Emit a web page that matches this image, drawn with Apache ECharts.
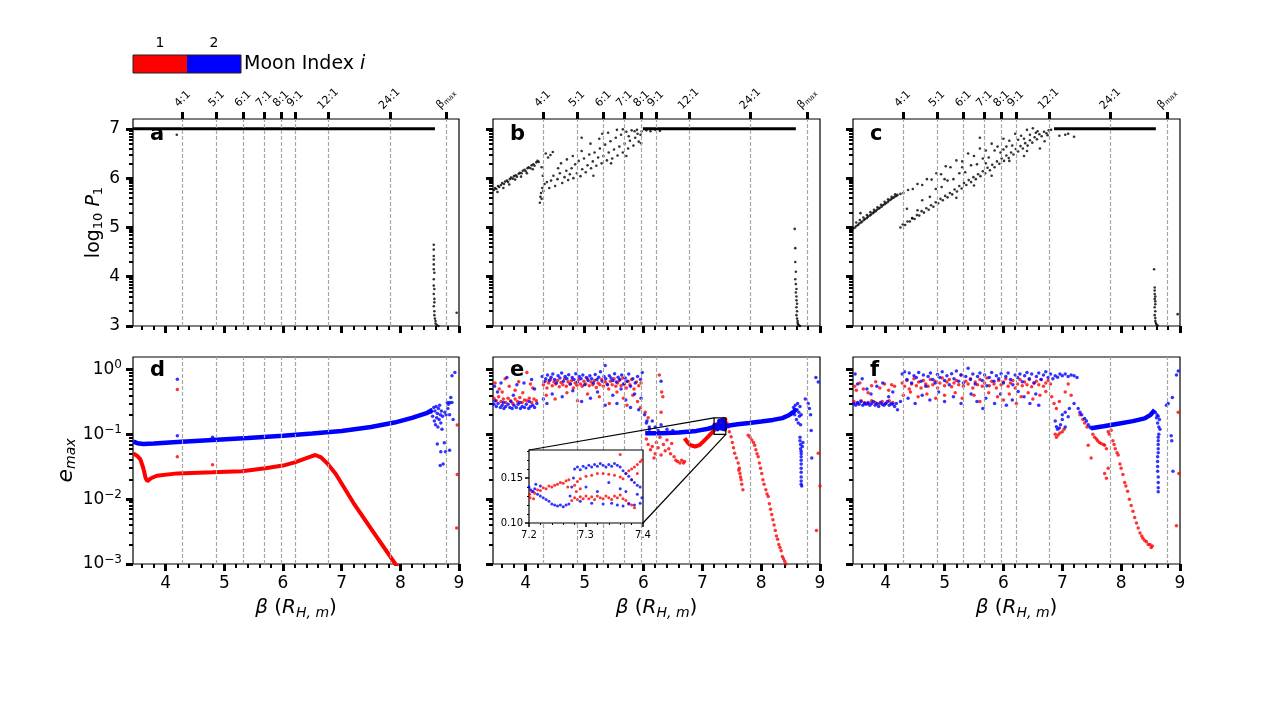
<!DOCTYPE html>
<html>
<head>
<meta charset="utf-8">
<script src="https://cdn.jsdelivr.net/npm/echarts@6.0.0/dist/echarts.min.js"></script>
<style>
html,body{margin:0;padding:0;background:#fff;}
#main{width:1273px;height:719px;}
</style>
</head>
<body>
<div id="main"></div>
<script>
// ---- axes / ticks ----
var xMajorTicks = [4, 5, 6, 7, 8, 9];
var xMinorTicks = [3.6, 3.8, 4.2, 4.4, 4.6, 4.8, 5.2, 5.4, 5.6, 5.8, 6.2, 6.4, 6.6, 6.8, 7.2, 7.4, 7.6, 7.8, 8.2, 8.4, 8.6, 8.8];
var resBeta = [4.29, 4.87, 5.32, 5.68, 5.97, 6.21, 6.77, 7.82, 8.78];
var resNames = ['4:1', '5:1', '6:1', '7:1', '8:1', '9:1', '12:1', '24:1', 'βmax'];
var pTicks = [3, 4, 5, 6, 7];
var eTicks = [0.001, 0.01, 0.1, 1];
var insetXTicks = [7.2, 7.3, 7.4];
var insetXMinor = [7.22, 7.24, 7.26, 7.28, 7.32, 7.34, 7.36, 7.38];
var insetYTicks = [0.10, 0.15];
var insetYMinor = [0.11, 0.12, 0.13, 0.14, 0.16, 0.17, 0.18];

// ---- panel a ----
var aLine = [[3.444, 7], [8.59, 7]];
var aDots = [[4.19, 6.88], [8.57, 4.65], [8.57, 4.55], [8.57, 4.42], [8.57, 4.35], [8.57, 4.25], [8.57, 4.15], [8.58, 4.08], [8.57, 3.95], [8.57, 3.82], [8.58, 3.75], [8.57, 3.65], [8.58, 3.55], [8.58, 3.48], [8.57, 3.4], [8.58, 3.3], [8.58, 3.22], [8.59, 3.15], [8.6, 3.1], [8.6, 3.05], [8.62, 3.02], [8.65, 3.0], [8.96, 3.27]];

// ---- panel b ----
var bLine = [[5.99, 7], [8.59, 7]];
var bDots = [[3.46,5.76],[3.48,5.80],[3.50,5.78],[3.53,5.84],[3.55,5.82],[3.58,5.86],[3.60,5.90],[3.63,5.88],[3.65,5.93],[3.68,5.95],[3.70,5.92],[3.73,5.98],[3.75,6.01],[3.78,5.99],[3.80,6.04],[3.83,6.06],[3.85,6.03],[3.88,6.09],[3.90,6.11],[3.93,6.10],[3.95,6.15],[3.98,6.17],[4.00,6.14],[4.03,6.20],[4.05,6.22],[4.08,6.20],[4.10,6.26],[4.13,6.28],[4.15,6.25],[4.18,6.32],[4.20,6.35],[4.22,6.33],[3.52,5.72],[3.62,5.80],[3.72,5.87],[3.82,5.97],[3.92,6.03],[4.02,6.10],[4.12,6.18],
  [4.24,5.50],[4.25,5.62],[4.26,5.70],[4.28,5.80],[4.27,5.58],[4.30,5.74],[4.32,5.88],[4.29,6.05],[4.27,6.22],[4.34,6.50],[4.38,6.42],[4.42,6.47],[4.46,6.53],[4.36,5.92],[4.40,5.80],[4.43,5.95],[4.47,6.05],[4.50,5.84],[4.54,5.98],[4.58,6.10],[4.62,5.90],[4.66,6.02],[4.69,6.15],[4.72,5.96],[4.75,6.08],[4.78,6.20],[4.81,6.00],[4.84,6.28],[4.87,6.10],[4.90,6.35],[4.93,6.04],[4.96,6.18],[4.99,6.40],[5.02,6.12],[5.05,6.26],[5.08,6.48],[5.11,6.20],[5.14,6.34],[5.17,6.52],[5.20,6.25],[5.23,6.42],[5.26,6.60],[5.29,6.30],[5.32,6.45],[5.35,6.68],[5.38,6.36],[5.41,6.52],[5.44,6.75],[5.47,6.40],[5.50,6.58],[5.53,6.82],[5.56,6.46],[5.59,6.64],[5.62,6.88],[5.65,6.52],[5.68,6.70],[5.71,6.94],[5.74,6.60],[5.77,6.76],[5.80,6.97],[5.83,6.66],[5.86,6.82],[5.89,6.98],[5.92,6.74],[5.95,6.88],[5.97,6.95],
  [4.60,6.30],[4.70,6.38],[4.80,6.45],[4.95,6.55],[5.10,6.70],[5.25,6.80],[5.40,6.92],[5.55,6.98],[5.65,6.99],[4.95,6.82],[5.71,6.45],[5.96,6.71],[5.30,6.90],[4.55,6.20],[5.15,6.05],[5.45,6.30],[5.75,6.85],[5.85,6.95],[5.90,6.90],
  [6.05,6.97],[6.12,6.95],[6.20,6.98],[6.28,6.96],
  [8.57,4.97],[8.58,4.58],[8.58,4.30],[8.59,4.10],[8.58,3.95],[8.59,3.85],[8.60,3.75],[8.59,3.68],[8.60,3.60],[8.60,3.52],[8.61,3.45],[8.60,3.38],[8.61,3.30],[8.60,3.22],[8.61,3.15],[8.62,3.10],[8.62,3.06],[8.63,3.03],[8.64,3.01],[8.66,3.00]];

// ---- panel c ----
var cLine = [[6.86, 7], [8.59, 7]];
var cDots = [[3.45,4.98],[3.48,5.00],[3.50,5.03],[3.53,5.05],[3.55,5.08],[3.58,5.10],[3.60,5.12],[3.63,5.15],[3.65,5.17],[3.68,5.19],[3.70,5.22],[3.73,5.24],[3.75,5.26],[3.78,5.29],[3.80,5.31],[3.83,5.33],[3.85,5.36],[3.88,5.38],[3.90,5.40],[3.93,5.42],[3.95,5.45],[3.98,5.47],[4.00,5.49],[4.03,5.51],[4.05,5.54],[4.08,5.56],[4.10,5.58],[4.13,5.60],[4.15,5.62],[4.18,5.64],[4.20,5.66],[4.25,5.68],
  [3.50,5.10],[3.56,5.15],[3.62,5.20],[3.68,5.25],[3.74,5.31],[3.80,5.36],[3.86,5.41],[3.92,5.46],[3.98,5.52],[4.04,5.57],[4.10,5.62],[4.16,5.67],[3.57,5.29],
  [4.25,5.00],[4.29,5.06],[4.33,5.05],[4.37,5.12],[4.41,5.12],[4.45,5.19],[4.49,5.17],[4.53,5.25],[4.57,5.24],[4.61,5.33],[4.65,5.30],[4.69,5.39],[4.73,5.36],[4.77,5.45],[4.81,5.42],[4.85,5.51],[4.89,5.49],[4.93,5.58],[4.97,5.55],[5.01,5.64],[5.05,5.61],[5.09,5.70],[5.13,5.67],[5.17,5.77],[5.21,5.73],[5.25,5.84],[5.29,5.79],[5.33,5.90],[5.37,5.86],[5.41,5.96],[5.45,5.92],[5.49,6.02],[5.53,5.98],[5.57,6.08],[5.61,6.04],[5.65,6.14],[5.69,6.10],[5.73,6.21],[5.77,6.16],[5.81,6.27],[5.85,6.22],[5.89,6.34],[5.93,6.29],[5.97,6.40],[6.01,6.35],[6.05,6.46],[6.09,6.41],[6.13,6.52],[6.17,6.48],[6.21,6.59],[6.25,6.54],[6.29,6.65],[6.33,6.60],[6.37,6.71],[6.41,6.66],[6.45,6.77],[6.49,6.72],[6.53,6.83],[6.57,6.79],[6.61,6.89],[6.65,6.85],[6.69,6.94],[6.73,6.91],[6.77,6.97],[6.81,6.98],
  [4.30,5.70],[4.38,5.76],[4.46,5.78],[4.54,5.88],[4.62,5.86],[4.70,5.98],[4.78,5.97],[4.86,6.10],[4.94,6.08],[5.02,6.24],[5.10,6.22],[5.20,6.36],[5.30,6.34],[5.40,6.50],[5.50,6.45],[5.60,6.60],[5.70,6.56],[5.80,6.70],[5.90,6.64],[6.00,6.80],[6.10,6.76],[6.20,6.90],[6.30,6.86],[6.40,6.98],[6.50,7.01],
  [4.36,5.38],[4.45,5.18],[4.54,5.35],[4.62,5.55],[4.75,5.62],[4.85,5.78],[4.95,5.82],[5.05,5.95],[5.15,5.98],[5.25,6.10],[5.35,6.12],[5.45,6.26],[5.55,6.28],[5.65,6.40],[5.75,6.42],[5.85,6.56],[5.95,6.52],[6.05,6.64],[6.15,6.66],[6.25,6.78],[6.35,6.80],[6.45,6.88],[6.55,6.92],[6.62,6.60],[6.70,6.75],[6.35,6.45],[5.60,6.82],[6.58,6.95],[6.75,6.87],[5.20,5.60],[5.50,5.85],[5.80,6.05],[6.10,6.35],[6.40,6.55],[5.00,5.98],[5.30,6.22],[5.70,6.30],[6.00,6.58],
  [6.95,6.86],[7.05,6.88],[7.20,6.84],[7.10,6.90],
  [8.56,4.15],[8.57,3.78],[8.57,3.72],[8.57,3.65],[8.58,3.60],[8.57,3.55],[8.58,3.50],[8.58,3.44],[8.57,3.38],[8.58,3.30],[8.57,3.22],[8.58,3.16],[8.58,3.10],[8.59,3.06],[8.60,3.03],[8.62,3.01],[8.96,3.24]];

// ---- panel d ----
var dBlueLine = [[3.45,0.077],[3.52,0.073],[3.62,0.071],[3.8,0.072],[4.2,0.076],[4.8,0.082],[5.4,0.088],[6.0,0.095],[6.5,0.103],[7.0,0.113],[7.5,0.13],[7.9,0.152],[8.2,0.18],[8.46,0.215],[8.55,0.24]];
var dRedLine = [[3.45,0.051],[3.52,0.046],[3.57,0.041],[3.62,0.03],[3.66,0.021],[3.69,0.019],[3.75,0.021],[3.85,0.023],[4.2,0.025],[4.8,0.026],[5.3,0.027],[5.7,0.030],[6.0,0.033],[6.2,0.037],[6.4,0.043],[6.55,0.048],[6.65,0.044],[6.75,0.036],[6.9,0.0245],[7.2,0.0088],[7.5,0.0035],[7.95,0.0009]];
var dBlueDots = [[4.2,0.71],[4.2,0.095],[4.8,0.09],[8.52,0.22],[8.55,0.19],[8.57,0.26],[8.58,0.16],[8.59,0.23],[8.6,0.14],[8.61,0.27],[8.62,0.18],[8.63,0.21],[8.64,0.13],[8.65,0.25],[8.66,0.17],[8.67,0.28],[8.68,0.2],[8.69,0.15],[8.7,0.23],[8.71,0.12],[8.72,0.19],
  [8.63,0.071],[8.69,0.054],[8.68,0.033],[8.73,0.035],[8.75,0.074],[8.77,0.054],[8.84,0.057],[8.8,0.31],[8.84,0.31],[8.82,0.29],[8.81,0.25],[8.84,0.2],[8.78,0.2],[8.86,0.37],[8.88,0.31],[8.9,0.17],[8.88,0.8],[8.93,0.9],[8.76,0.22]];
var dRedDots = [[4.2,0.49],[4.2,0.045],[4.8,0.034],[8.97,0.139],[8.97,0.024],[8.96,0.0036]];

// ---- panel e ----
var eBlueLine = [[6.03,0.104],[6.3,0.104],[6.6,0.107],[6.9,0.113],[7.1,0.122],[7.2,0.13],[7.4,0.135],[7.6,0.143],[7.8,0.150],[8.0,0.158],[8.2,0.167],[8.36,0.178],[8.46,0.195],[8.55,0.22],[8.6,0.25]];
var eRedLine = [[6.7,0.087],[6.75,0.075],[6.8,0.068],[6.88,0.065],[6.95,0.068],[7.02,0.078],[7.1,0.092],[7.16,0.105],[7.21,0.118]];
var eBlueDots = [[3.46,0.29],[3.50,0.27],[3.53,0.30],[3.57,0.26],[3.60,0.28],[3.63,0.25],[3.66,0.27],[3.70,0.29],[3.73,0.26],[3.77,0.25],[3.80,0.28],[3.84,0.26],[3.87,0.29],[3.91,0.25],[3.94,0.27],[3.98,0.26],[4.01,0.29],[4.05,0.25],[4.08,0.27],[4.12,0.28],[4.15,0.26],[4.19,0.30],[3.48,0.33],[3.62,0.31],[3.75,0.32],[3.90,0.31],[4.06,0.32],
  [3.47,0.55],[3.52,0.45],[3.58,0.62],[3.68,0.75],[3.79,0.40],[3.85,0.58],[3.97,0.62],[4.10,0.70],[4.15,0.50],
  [4.28,0.78],[4.31,0.65],[4.34,0.72],[4.37,0.82],[4.40,0.68],[4.43,0.76],[4.46,0.85],[4.49,0.70],[4.52,0.62],[4.55,0.80],[4.58,0.74],[4.61,0.88],[4.64,0.66],[4.67,0.78],[4.70,0.72],[4.73,0.83],[4.76,0.60],[4.79,0.75],[4.82,0.70],[4.85,0.86],[4.88,0.64],[4.91,0.78],[4.94,0.72],[4.97,0.82],[5.00,0.58],[5.03,0.75],[5.06,0.68],[5.09,0.80],[5.12,0.72],[5.15,0.62],[5.18,0.84],[5.21,0.70],[5.24,0.76],[5.27,0.92],[5.30,0.66],[5.33,0.78],[5.36,0.72],[5.39,0.58],[5.42,0.80],[5.45,0.74],[5.48,0.68],[5.51,0.86],[5.54,0.64],[5.57,0.76],[5.60,0.70],[5.63,0.82],[5.66,0.60],[5.69,0.74],[5.72,0.66],[5.75,0.85],[5.78,0.55],[5.82,0.72],[5.86,0.62],[5.90,0.78],[5.95,0.70],[5.98,0.90],[5.35,1.15],
  [4.30,0.35],[4.36,0.30],[4.45,0.42],[4.62,0.38],[4.80,0.47],[4.95,0.32],[5.10,0.36],[5.22,0.45],[5.35,0.28],[5.48,0.40],[5.55,0.30],[5.62,0.50],[5.70,0.34],[5.78,0.26],[5.85,0.42],[5.92,0.24],[5.96,0.36],[6.02,0.20],[6.06,0.16],[6.10,0.13],[6.30,0.66],
  [6.05,0.15],[6.1,0.12],[6.15,0.16],[6.2,0.13],[6.25,0.115],[6.3,0.14],[6.4,0.12],[6.5,0.115],
  [8.52,0.22],[8.55,0.26],[8.57,0.2],[8.58,0.28],[8.6,0.17],[8.61,0.24],[8.62,0.3],[8.63,0.15],[8.64,0.22],[8.65,0.19],[8.66,0.27],[8.67,0.14],[8.68,0.2],
  [8.66,0.09],[8.66,0.08],[8.67,0.07],[8.70,0.065],[8.67,0.06],[8.71,0.075],[8.68,0.055],[8.68,0.05],[8.68,0.045],[8.68,0.04],[8.68,0.035],[8.68,0.03],[8.68,0.026],[8.68,0.022],[8.68,0.019],[8.68,0.017],[8.69,0.016],
  [8.75,0.35],[8.8,0.3],[8.82,0.25],[8.84,0.2],[8.86,0.043],[8.85,0.115],[8.97,0.64],[8.93,0.75]];
var eRedDots = [[3.46,0.36],[3.50,0.33],[3.54,0.38],[3.58,0.32],[3.62,0.35],[3.66,0.31],[3.70,0.36],[3.74,0.33],[3.78,0.30],[3.82,0.35],[3.86,0.32],[3.90,0.37],[3.94,0.31],[3.98,0.34],[4.02,0.33],[4.06,0.36],[4.10,0.31],[4.14,0.35],[4.18,0.33],
  [3.48,0.62],[3.55,0.50],[3.60,0.45],[3.65,0.72],[3.72,0.55],[3.82,0.48],[3.88,0.65],[3.95,0.44],[4.02,0.90],[4.08,0.60],[4.12,0.52],
  [4.30,0.58],[4.33,0.66],[4.36,0.52],[4.39,0.62],[4.42,0.70],[4.45,0.56],[4.48,0.64],[4.51,0.60],[4.54,0.68],[4.57,0.54],[4.60,0.63],[4.63,0.58],[4.66,0.72],[4.69,0.55],[4.72,0.65],[4.75,0.60],[4.78,0.68],[4.81,0.52],[4.84,0.62],[4.87,0.57],[4.90,0.70],[4.93,0.60],[4.96,0.55],[4.99,0.66],[5.02,0.60],[5.05,0.72],[5.08,0.56],[5.11,0.64],[5.14,0.58],[5.17,0.68],[5.20,0.53],[5.23,0.62],[5.26,0.58],[5.29,0.70],[5.32,0.55],[5.35,0.65],[5.38,0.60],[5.41,0.50],[5.44,0.66],[5.47,0.58],[5.50,0.72],[5.53,0.55],[5.56,0.62],[5.59,0.68],[5.62,0.56],[5.65,0.74],[5.68,0.60],[5.71,0.52],[5.74,0.66],[5.77,0.58],[5.80,0.70],[5.84,0.50],[5.88,0.64],[5.92,0.56],[5.96,0.62],
  [4.35,0.40],[4.50,0.35],[4.70,0.44],[4.88,0.33],[5.05,0.42],[5.25,0.38],[5.42,0.30],[5.55,0.45],[5.66,0.36],[5.72,0.28],[5.82,0.40],[5.90,0.32],[5.95,0.26],[6.03,0.22],[6.08,0.18],[6.27,0.82],[6.31,0.45],[6.30,0.22],[6.33,0.38],
  [6.05,0.085],[6.08,0.07],[6.12,0.058],[6.15,0.065],[6.18,0.043],[6.20,0.05],[6.22,0.075],[6.25,0.062],[6.28,0.09],[6.30,0.048],[6.34,0.07],[6.37,0.056],[6.40,0.082],[6.43,0.06],[6.46,0.05],[6.48,0.072],[6.52,0.045],[6.55,0.04],[6.58,0.038],[6.62,0.036],[6.65,0.04],[6.68,0.036],[6.70,0.038],
  [7.42,0.15],[7.44,0.13],[7.46,0.11],[7.49,0.092],[7.51,0.075],[7.53,0.062],[7.55,0.051],[7.58,0.043],[7.61,0.036],[7.62,0.028],[7.63,0.030],[7.64,0.025],[7.65,0.022],[7.66,0.020],[7.67,0.017],[7.69,0.014],
  [7.78,0.097],[7.81,0.09],[7.84,0.082],[7.87,0.075],[7.89,0.068],[7.91,0.058],[7.93,0.05],[7.95,0.045],[7.97,0.036],[7.99,0.03],[8.01,0.025],[8.03,0.02],[8.05,0.017],[8.08,0.014],[8.10,0.012],[8.12,0.011],[8.14,0.0085],[8.16,0.007],[8.18,0.0058],[8.20,0.0048],[8.22,0.004],[8.24,0.0033],[8.26,0.0027],[8.28,0.0024],[8.30,0.002],[8.32,0.0018],[8.34,0.0016],[8.36,0.0013],[8.38,0.0012],[8.40,0.0011],[8.42,0.001],
  [8.97,0.051],[8.94,0.0033],[9.0,0.016]];

// ---- panel e inset (7.2 - 7.4) ----
var insetRed = [[7.201,0.132],[7.205,0.135],[7.21,0.133],[7.215,0.137],[7.22,0.136],[7.225,0.139],[7.23,0.138],[7.235,0.141],[7.24,0.140],[7.245,0.142],[7.25,0.143],[7.255,0.145],[7.26,0.144],[7.265,0.147],[7.27,0.148],[7.268,0.14],[7.202,0.128],[7.208,0.127],
  [7.275,0.125],[7.28,0.128],[7.285,0.126],[7.29,0.129],[7.295,0.127],[7.30,0.130],[7.305,0.127],[7.31,0.129],[7.315,0.126],[7.32,0.13],[7.325,0.128],[7.33,0.127],[7.335,0.13],[7.34,0.128],[7.345,0.126],[7.35,0.13],[7.355,0.128],[7.36,0.131],[7.365,0.127],[7.37,0.125],[7.375,0.122],[7.38,0.12],[7.385,0.117],
  [7.28,0.142],[7.285,0.146],[7.29,0.149],[7.30,0.152],[7.31,0.153],[7.32,0.155],[7.33,0.155],[7.34,0.154],[7.35,0.153],[7.36,0.151],[7.365,0.149],[7.29,0.138],[7.283,0.135],
  [7.37,0.155],[7.375,0.158],[7.38,0.16],[7.385,0.162],[7.39,0.165],[7.395,0.168],[7.398,0.17],[7.39,0.155],[7.38,0.148],[7.36,0.176]];
var insetBlue = [[7.2,0.14],[7.203,0.137],[7.207,0.135],[7.21,0.138],[7.215,0.132],[7.22,0.13],[7.225,0.128],[7.23,0.126],[7.235,0.124],[7.24,0.121],[7.245,0.12],[7.25,0.119],[7.255,0.12],[7.26,0.118],[7.265,0.12],[7.27,0.121],[7.212,0.143],[7.22,0.141],
  [7.272,0.13],[7.275,0.14],[7.278,0.15],
  [7.28,0.16],[7.285,0.162],[7.29,0.159],[7.295,0.163],[7.30,0.161],[7.305,0.164],[7.31,0.162],[7.315,0.165],[7.32,0.163],[7.325,0.166],[7.33,0.164],[7.335,0.162],[7.34,0.165],[7.345,0.163],[7.35,0.166],[7.355,0.164],[7.36,0.162],[7.365,0.158],[7.37,0.155],[7.375,0.152],[7.38,0.148],[7.385,0.145],[7.39,0.142],[7.395,0.14],
  [7.29,0.124],[7.31,0.122],[7.33,0.121],[7.345,0.122],[7.355,0.12],[7.365,0.119],[7.375,0.121],[7.385,0.12],[7.395,0.122],[7.39,0.132],[7.398,0.128],
  [7.30,0.14],[7.32,0.135],[7.34,0.145],[7.36,0.138],[7.37,0.135]];

// ---- panel f ----
var fBlueLine = [[7.49,0.124],[7.7,0.133],[7.95,0.146],[8.2,0.16],[8.4,0.176],[8.5,0.2],[8.57,0.237]];
var fBlueDots = [[3.46,0.30],[3.49,0.28],[3.52,0.31],[3.55,0.29],[3.58,0.32],[3.61,0.28],[3.64,0.30],[3.67,0.29],[3.70,0.31],[3.73,0.28],[3.76,0.30],[3.79,0.32],[3.82,0.28],[3.85,0.30],[3.88,0.27],[3.91,0.31],[3.94,0.29],[3.97,0.28],[4.00,0.30],[4.03,0.32],[4.06,0.28],[4.09,0.30],[4.12,0.29],[4.15,0.27],[4.18,0.30],[4.20,0.24],
  [3.48,0.85],[3.52,0.60],[3.60,0.72],[3.68,0.50],[3.75,0.42],[3.85,0.55],[3.95,0.62],[4.05,0.38],[4.12,0.45],
  [4.28,0.85],[4.32,0.92],[4.36,0.70],[4.40,0.88],[4.44,0.62],[4.48,0.80],[4.52,0.75],[4.56,0.90],[4.60,0.66],[4.64,0.82],[4.68,0.55],[4.72,0.78],[4.76,0.88],[4.80,0.70],[4.84,0.62],[4.88,0.84],[4.92,0.75],[4.96,0.92],[5.00,0.68],[5.04,0.80],[5.08,0.58],[5.12,0.86],[5.16,0.72],[5.20,0.95],[5.24,0.66],[5.28,0.82],[5.32,0.62],[5.36,0.78],[5.40,1.05],[5.44,0.70],[5.48,0.85],[5.52,0.60],[5.56,0.78],[5.60,0.88],[5.64,0.68],[5.68,0.82],[5.72,0.56],[5.76,0.75],[5.80,0.90],[5.84,0.66],[5.88,0.80],[5.92,0.72],[5.96,0.86],[6.00,0.62],[6.04,0.78],[6.08,0.88],[6.12,0.70],[6.16,0.58],[6.20,0.82],[6.24,0.75],[6.28,0.85],[6.32,0.65],[6.36,0.80],[6.40,0.90],[6.44,0.72],[6.48,0.85],[6.52,0.62],[6.56,0.78],[6.60,0.88],[6.64,0.70],[6.68,0.82],[6.72,0.92],[6.76,0.75],[6.80,0.85],[6.84,0.72],[6.88,0.80],[6.92,0.76],[6.96,0.85],[7.00,0.80],[7.05,0.85],[7.10,0.78],[7.15,0.82],[7.20,0.80],[7.25,0.75],
  [4.25,0.32],[4.38,0.36],[4.50,0.30],[4.62,0.40],[4.75,0.34],[4.90,0.45],[5.00,0.32],[5.15,0.38],[5.28,0.30],[5.45,0.42],[5.55,0.32],[5.65,0.25],[5.70,0.36],[5.85,0.30],[5.95,0.42],[6.05,0.28],[6.15,0.34],[6.25,0.46],[6.35,0.38],[6.45,0.30],[6.55,0.42],[6.60,0.28],
  [6.88,0.16],[6.90,0.131],[6.92,0.12],[6.95,0.125],[6.97,0.14],[7.00,0.20],[7.05,0.22],[7.10,0.187],[7.12,0.25],[7.20,0.30],[7.27,0.25],[7.30,0.22],[7.33,0.20],[7.38,0.176],[7.41,0.16],[7.44,0.14],[7.47,0.13],[7.49,0.124],[7.00,0.17],[7.05,0.13],
  [8.58,0.22],[8.60,0.18],[8.61,0.20],[8.62,0.15],[8.63,0.19],[8.64,0.13],[8.65,0.17],[8.66,0.12],[8.64,0.10],[8.63,0.09],[8.63,0.08],[8.63,0.07],[8.63,0.06],[8.63,0.052],[8.62,0.045],[8.62,0.038],[8.62,0.032],[8.62,0.027],[8.63,0.022],[8.63,0.018],[8.63,0.015],[8.63,0.013],
  [8.77,0.28],[8.80,0.30],[8.87,0.37],[8.88,0.027],[8.85,0.095],[8.86,0.08],[8.94,0.82],[8.97,0.95]];
var fRedDots = [[3.46,0.32],[3.52,0.30],[3.58,0.33],[3.64,0.31],[3.70,0.30],[3.76,0.33],[3.82,0.31],[3.88,0.29],[3.94,0.32],[4.00,0.30],[4.06,0.33],[4.12,0.31],
  [3.47,0.55],[3.50,0.48],[3.56,0.62],[3.62,0.50],[3.70,0.44],[3.76,0.56],[3.83,0.65],[3.90,0.52],[3.98,0.60],[4.05,0.48],[4.10,0.58],[4.15,0.55],
  [4.28,0.62],[4.32,0.55],[4.36,0.68],[4.40,0.50],[4.44,0.60],[4.48,0.72],[4.52,0.56],[4.56,0.64],[4.60,0.52],[4.64,0.68],[4.68,0.60],[4.72,0.55],[4.76,0.70],[4.80,0.58],[4.84,0.66],[4.88,0.52],[4.92,0.62],[4.96,0.74],[5.00,0.56],[5.04,0.64],[5.08,0.70],[5.12,0.54],[5.16,0.62],[5.20,0.68],[5.24,0.58],[5.28,0.82],[5.32,0.55],[5.36,0.66],[5.40,0.60],[5.44,0.72],[5.48,0.52],[5.52,0.64],[5.56,0.58],[5.60,0.70],[5.64,0.55],[5.68,0.62],[5.72,0.74],[5.76,0.56],[5.80,0.66],[5.84,0.60],[5.88,0.52],[5.92,0.68],[5.96,0.58],[6.00,0.64],[6.04,0.72],[6.08,0.55],[6.12,0.62],[6.16,0.68],[6.20,0.52],[6.24,0.60],[6.28,0.70],[6.32,0.56],[6.36,0.64],[6.40,0.58],[6.44,0.70],[6.48,0.54],[6.52,0.62],[6.56,0.66],[6.60,0.58],[6.64,0.70],[6.68,0.55],[6.72,0.62],[6.76,0.68],[6.80,0.60],
  [4.30,0.40],[4.42,0.45],[4.55,0.38],[4.70,0.42],[4.85,0.36],[5.00,0.40],[5.18,0.44],[5.30,0.36],[5.50,0.40],[5.60,0.32],[5.75,0.44],[5.90,0.38],[6.00,0.34],[6.10,0.42],[6.22,0.30],[6.30,0.38],[6.42,0.44],[6.50,0.35],[6.62,0.40],[6.72,0.46],[6.82,0.38],[6.86,0.30],[6.90,0.25],[6.95,0.32],[7.05,0.45],[7.10,0.60],[7.15,0.40],
  [6.88,0.10],[6.90,0.09],[6.93,0.098],[6.96,0.105],[7.00,0.11],[7.03,0.12],[7.30,0.20],[7.35,0.17],[7.38,0.15],[7.42,0.13],
  [7.44,0.068],[7.49,0.043],[7.52,0.10],[7.55,0.09],[7.58,0.085],[7.60,0.08],[7.63,0.075],[7.66,0.072],[7.70,0.07],[7.72,0.068],[7.75,0.06],[7.78,0.11],[7.80,0.10],[7.83,0.116],[7.86,0.08],[7.88,0.07],[7.90,0.06],[7.93,0.052],[7.95,0.048],[7.98,0.035],[8.00,0.03],[8.03,0.024],[8.06,0.018],[8.08,0.016],[8.11,0.0132],[8.14,0.01],[8.17,0.008],[8.20,0.0065],[8.23,0.0052],[8.26,0.0043],[8.29,0.0036],[8.32,0.003],[8.35,0.0027],[8.37,0.0025],[8.40,0.0023],[8.43,0.0022],[8.46,0.002],[8.49,0.002],[8.51,0.0018],[8.53,0.0019],[7.72,0.025],[7.75,0.021],[7.78,0.03],
  [8.97,0.22],[8.98,0.025],[8.94,0.0039]];

// ---- drawing ----
var FONT = 'DejaVu Sans';
var X_MIN = 3.444, X_MAX = 9.0;
var P_MIN = 3, P_MAX = 7.2;
var E_MIN = 0.001, E_MAX = 1.56;
var INSET_Y = [0.10, 0.181];
var RED = '#ff0000', BLUE = '#0000ff';

// log-style minor tick positions
var pMinor = [];
for (var k = 3; k < 7; k++) for (var m = 2; m <= 9; m++) pMinor.push(k + Math.log10(m));
var eMinor = [];
[0.001, 0.01, 0.1].forEach(function (d) { for (var m = 2; m <= 9; m++) eMinor.push(+(m * d).toPrecision(3)); });

var PANELS = [
  {L: 133, T: 119, W: 326, H: 207, row: 0, letter: 'a'},
  {L: 493, T: 119, W: 327, H: 207, row: 0, letter: 'b'},
  {L: 853, T: 119, W: 327, H: 207, row: 0, letter: 'c'},
  {L: 133, T: 357, W: 326, H: 207, row: 1, letter: 'd'},
  {L: 493, T: 357, W: 327, H: 207, row: 1, letter: 'e'},
  {L: 853, T: 357, W: 327, H: 207, row: 1, letter: 'f'}
];
var INSET = {L: 529, T: 450, W: 114, H: 73};

function ticks(len, w, values) {
  return {show: true, inside: false, length: len, customValues: values, lineStyle: {color: '#000', width: w}};
}
function supLabel(v) {
  var e = Math.round(Math.log10(v));
  return '{b|10}{s|' + (e < 0 ? '\u2212' + (-e) : e) + '}';
}
function resLabel(v) {
  for (var i = 0; i < resBeta.length; i++) {
    if (Math.abs(resBeta[i] - v) < 1e-6) return i === 8 ? '{b|β}{m|max}' : resNames[i];
  }
  return '';
}

var grid = [], xAxis = [], yAxis = [], series = [], ax = [];

PANELS.forEach(function (p, i) {
  var bottom = p.row === 1, first = i % 3 === 0;
  grid.push({left: p.L, top: p.T, width: p.W, height: p.H, show: true, borderColor: '#000', borderWidth: 1.2});
  var xi = xAxis.length;
  xAxis.push({
    type: 'value', gridIndex: i, min: X_MIN, max: X_MAX, position: 'bottom',
    axisLine: {show: false}, splitLine: {show: false},
    axisTick: ticks(7, 3, xMajorTicks),
    axisLabel: {show: bottom, customValues: xMajorTicks, color: '#000', fontFamily: FONT, fontSize: 17, margin: 11},
    name: bottom ? '{i|β} ({i|R}{s|H, m})' : '', nameLocation: 'middle', nameGap: 32,
    nameTextStyle: {color: '#000', fontFamily: FONT, fontSize: 20, rich: {
      i: {fontStyle: 'italic', fontSize: 20, fontFamily: FONT, color: '#000'},
      s: {fontStyle: 'italic', fontSize: 14, fontFamily: FONT, color: '#000', padding: [10, 0, 0, 0]}}}
  });
  xAxis.push({
    type: 'value', gridIndex: i, min: X_MIN, max: X_MAX, position: 'bottom',
    axisLine: {show: false}, splitLine: {show: false},
    axisTick: ticks(4, 2, xMinorTicks), axisLabel: {show: false}
  });
  if (!bottom) {
    xAxis.push({
      type: 'value', gridIndex: i, min: X_MIN, max: X_MAX, position: 'top',
      axisLine: {show: false}, splitLine: {show: false},
      axisTick: ticks(7, 3, resBeta),
      axisLabel: {show: true, customValues: resBeta, rotate: -45, align: 'center', verticalAlign: 'middle', margin: 20,
        color: '#000', fontFamily: FONT, fontSize: 11, formatter: resLabel,
        rich: {b: {fontSize: 11, fontFamily: FONT, color: '#000'}, m: {fontSize: 7, fontFamily: FONT, color: '#000', padding: [5, 0, 0, 0]}}}
    });
  }
  var yi = yAxis.length;
  if (!bottom) {
    yAxis.push({
      type: 'value', gridIndex: i, min: P_MIN, max: P_MAX, position: 'left',
      axisLine: {show: false}, splitLine: {show: false},
      axisTick: ticks(7, 3, pTicks),
      axisLabel: {show: first, customValues: pTicks, color: '#000', fontFamily: FONT, fontSize: 17, margin: 13},
      name: first ? '{n|log}{s|10}{n| }{i|P}{s|1}' : '', nameLocation: 'middle', nameRotate: 90, nameGap: 28,
      nameTextStyle: {color: '#000', fontFamily: FONT, fontSize: 19, rich: {
        n: {fontSize: 19, fontFamily: FONT, color: '#000'},
        i: {fontSize: 19, fontFamily: FONT, color: '#000', fontStyle: 'italic'},
        s: {fontSize: 13, fontFamily: FONT, color: '#000', padding: [9, 0, 0, 0]}}}
    });
    yAxis.push({
      type: 'value', gridIndex: i, min: P_MIN, max: P_MAX, position: 'left',
      axisLine: {show: false}, splitLine: {show: false},
      axisTick: ticks(4, 2, pMinor), axisLabel: {show: false}
    });
  } else {
    yAxis.push({
      type: 'log', logBase: 10, gridIndex: i, min: E_MIN, max: E_MAX, position: 'left',
      axisLine: {show: false}, splitLine: {show: false},
      axisTick: ticks(7, 3, eTicks),
      axisLabel: {show: first, customValues: eTicks, formatter: supLabel, color: '#000', fontFamily: FONT, fontSize: 17, margin: 11,
        rich: {b: {fontSize: 17, fontFamily: FONT, color: '#000'}, s: {fontSize: 12, fontFamily: FONT, color: '#000', padding: [0, 0, 9, 0]}}},
      name: first ? '{i|e}{s|max}' : '', nameLocation: 'middle', nameRotate: 90, nameGap: 42,
      nameTextStyle: {color: '#000', fontFamily: FONT, fontSize: 22, rich: {
        i: {fontSize: 22, fontFamily: FONT, color: '#000', fontStyle: 'italic'},
        s: {fontSize: 14, fontFamily: FONT, color: '#000', fontStyle: 'italic', padding: [10, 0, 0, 0]}}}
    });
    yAxis.push({
      type: 'log', logBase: 10, gridIndex: i, min: E_MIN, max: E_MAX, position: 'left',
      axisLine: {show: false}, splitLine: {show: false},
      axisTick: ticks(4, 2, eMinor), axisLabel: {show: false}
    });
  }
  ax.push({x: xi, y: yi});
});

// inset grid (index 6)
grid.push({left: INSET.L, top: INSET.T, width: INSET.W, height: INSET.H, show: true, borderColor: '#000', borderWidth: 1.2, backgroundColor: '#fff', z: 10});
var insX = xAxis.length, insY = yAxis.length;
xAxis.push({type: 'value', gridIndex: 6, min: 7.2, max: 7.4, position: 'bottom', z: 12,
  axisLine: {show: false}, splitLine: {show: false}, axisTick: ticks(4, 1.5, insetXTicks),
  axisLabel: {customValues: insetXTicks, formatter: function (v) { return v.toFixed(1); }, color: '#000', fontFamily: FONT, fontSize: 10, margin: 7}});
xAxis.push({type: 'value', gridIndex: 6, min: 7.2, max: 7.4, position: 'bottom', z: 12,
  axisLine: {show: false}, splitLine: {show: false}, axisTick: ticks(2, 1, insetXMinor), axisLabel: {show: false}});
yAxis.push({type: 'value', gridIndex: 6, min: INSET_Y[0], max: INSET_Y[1], position: 'left', z: 12,
  axisLine: {show: false}, splitLine: {show: false}, axisTick: ticks(4, 1.5, insetYTicks),
  axisLabel: {customValues: insetYTicks, formatter: function (v) { return v.toFixed(2); }, color: '#000', fontFamily: FONT, fontSize: 10, margin: 6}});
yAxis.push({type: 'value', gridIndex: 6, min: INSET_Y[0], max: INSET_Y[1], position: 'left', z: 12,
  axisLine: {show: false}, splitLine: {show: false}, axisTick: ticks(2, 1, insetYMinor), axisLabel: {show: false}});
ax.push({x: insX, y: insY});

var resLines = {
  silent: true, symbol: 'none', animation: false, label: {show: false},
  lineStyle: {type: [4, 2], color: '#a6a6a6', width: 1.2},
  data: resBeta.map(function (b) { return {xAxis: b}; })
};
function sc(pi, data, color, size, extra) {
  var s = {type: 'scatter', xAxisIndex: ax[pi].x, yAxisIndex: ax[pi].y, data: data, symbolSize: size,
    itemStyle: {color: color}, silent: true, animation: false};
  for (var k in extra) s[k] = extra[k];
  return s;
}
function ln(pi, data, color, width, extra) {
  var s = {type: 'line', xAxisIndex: ax[pi].x, yAxisIndex: ax[pi].y, data: data, symbol: 'none',
    lineStyle: {color: color, width: width}, silent: true, animation: false};
  for (var k in extra) s[k] = extra[k];
  return s;
}

series.push(ln(0, aLine, '#000', 3, {markLine: resLines}));
series.push(sc(0, aDots, '#000', 2.6));
series.push(ln(1, bLine, '#000', 3, {markLine: resLines}));
series.push(sc(1, bDots, '#000', 2.6));
series.push(ln(2, cLine, '#000', 3, {markLine: resLines}));
series.push(sc(2, cDots, '#000', 2.6));

series.push(ln(3, dRedLine, RED, 4, {markLine: resLines}));
series.push(ln(3, dBlueLine, BLUE, 4.5));
series.push(sc(3, dRedDots, RED, 3.5));
series.push(sc(3, dBlueDots, BLUE, 3.5));

series.push(sc(4, eRedDots, RED, 3.5, {markLine: resLines}));
series.push(sc(4, eBlueDots, BLUE, 3.5));
series.push(ln(4, eRedLine, RED, 4));
series.push(ln(4, eBlueLine, BLUE, 4.5));
series.push(sc(4, insetRed, RED, 3.5));
series.push(sc(4, insetBlue, BLUE, 3.5));

series.push(sc(5, fRedDots, RED, 3.5, {markLine: resLines}));
series.push(sc(5, fBlueDots, BLUE, 3.5));
series.push(ln(5, fBlueLine, BLUE, 4.5));

series.push(sc(6, insetRed, RED, 3, {z: 12}));
series.push(sc(6, insetBlue, BLUE, 3, {z: 12}));

var chart = echarts.init(document.getElementById('main'), null, {renderer: 'canvas'});
chart.setOption({
  animation: false,
  backgroundColor: '#fff',
  textStyle: {fontFamily: FONT},
  grid: grid, xAxis: xAxis, yAxis: yAxis, series: series
});

// graphic overlay: panel letters, colour key, zoom box and connector lines
var g = [];
PANELS.forEach(function (p) {
  g.push({type: 'text', x: p.L + 17, y: p.T + (p.row === 0 ? 5 : 3), z: 20,
    style: {text: p.letter, font: 'bold 21px "DejaVu Sans"', fill: '#000', verticalAlign: 'top'}});
});
g.push({type: 'rect', shape: {x: 133, y: 55, width: 54, height: 18}, style: {fill: RED}, z: 20});
g.push({type: 'rect', shape: {x: 187, y: 55, width: 54, height: 18}, style: {fill: BLUE}, z: 20});
g.push({type: 'rect', shape: {x: 133, y: 55, width: 108, height: 18}, style: {fill: 'none', stroke: '#222', lineWidth: 1}, z: 21});
g.push({type: 'text', x: 160, y: 50, z: 20, style: {text: '1', font: '14px "DejaVu Sans"', fill: '#000', align: 'center', verticalAlign: 'bottom'}});
g.push({type: 'text', x: 214, y: 50, z: 20, style: {text: '2', font: '14px "DejaVu Sans"', fill: '#000', align: 'center', verticalAlign: 'bottom'}});
g.push({type: 'text', x: 244, y: 64, z: 20, style: {text: 'Moon Index {i|i}', font: '19px "DejaVu Sans"', fill: '#000', verticalAlign: 'middle',
  rich: {i: {fontStyle: 'italic', fontSize: 19, fontFamily: FONT, fill: '#000'}}}});

var fe = {xAxisIndex: ax[4].x, yAxisIndex: ax[4].y};
var fi = {xAxisIndex: ax[6].x, yAxisIndex: ax[6].y};
var bTL = chart.convertToPixel(fe, [7.2, 0.18]);
var bBR = chart.convertToPixel(fe, [7.4, 0.10]);
var iTL = chart.convertToPixel(fi, [7.2, INSET_Y[1]]);
var iBR = chart.convertToPixel(fi, [7.4, INSET_Y[0]]);
if (bTL && bBR && iTL && iBR) {
  g.push({type: 'rect', z: 20, shape: {x: bTL[0], y: bTL[1], width: bBR[0] - bTL[0], height: bBR[1] - bTL[1]},
    style: {fill: 'none', stroke: '#000', lineWidth: 1.2}});
  g.push({type: 'line', z: 20, shape: {x1: iTL[0], y1: iTL[1], x2: bTL[0], y2: bTL[1]}, style: {stroke: '#000', lineWidth: 1.2}});
  g.push({type: 'line', z: 20, shape: {x1: iBR[0], y1: iBR[1], x2: bBR[0], y2: bBR[1]}, style: {stroke: '#000', lineWidth: 1.2}});
}
chart.setOption({graphic: {elements: g}});
</script>
</body>
</html>
